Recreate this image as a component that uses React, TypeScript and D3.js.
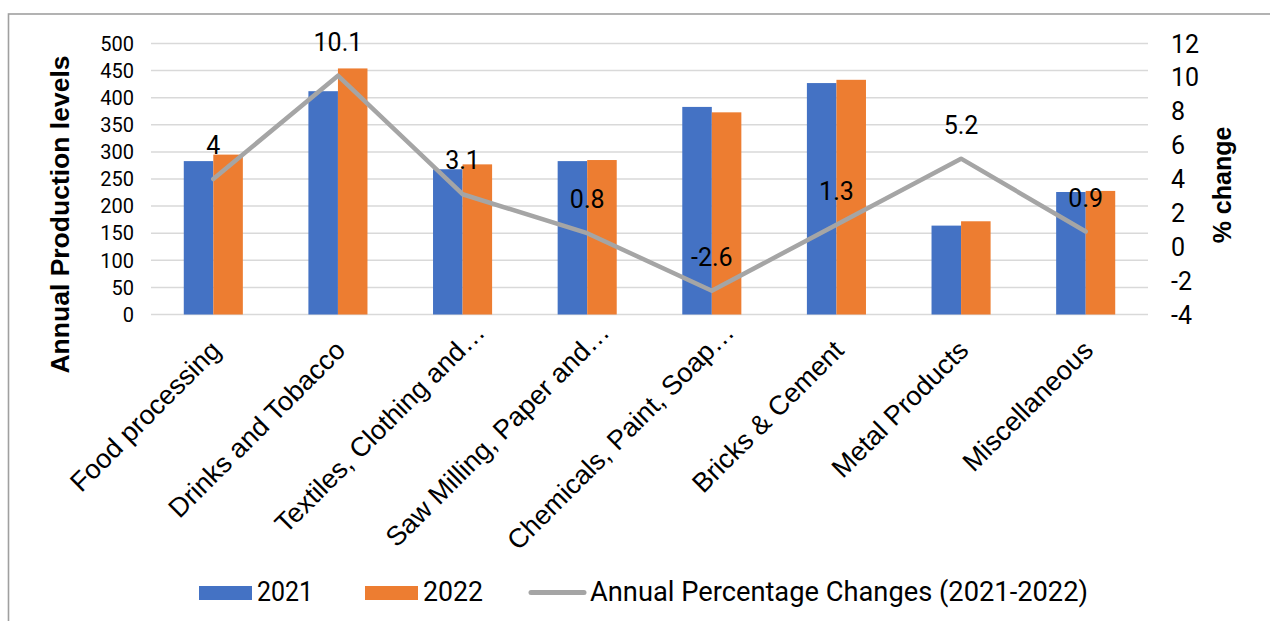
import React from "react";
import * as d3 from "d3";

const categories = [
  "Food processing",
  "Drinks and Tobacco",
  "Textiles, Clothing and…",
  "Saw Milling, Paper and…",
  "Chemicals, Paint, Soap…",
  "Bricks & Cement",
  "Metal Products",
  "Miscellaneous",
];
const values2021 = [283, 412, 268, 283, 383, 427, 164, 226];
const values2022 = [295, 454, 277, 285, 373, 433, 172, 228];
const pctChange = [4, 10.1, 3.1, 0.8, -2.6, 1.3, 5.2, 0.9];
const leftTicks = [0, 50, 100, 150, 200, 250, 300, 350, 400, 450, 500];
const rightTicks = [-4, -2, 0, 2, 4, 6, 8, 10, 12];
const seriesNames = ["2021", "2022"];
const lineName = "Annual Percentage Changes (2021-2022)";

const W = 1270;
const H = 621;
const left = 151;
const right = 1148;
const top = 43.5;
const bottom = 314.5;

const BLUE = "#4472C4";
const ORANGE = "#ED7D31";
const GREY = "#A5A5A5";
const GRID = "#D9D9D9";

export default function App() {
  const x = d3.scaleBand<string>().domain(categories).range([left, right]).paddingInner(0.526).paddingOuter(0.263);
  const xSub = d3.scaleBand<string>().domain(seriesNames).range([0, x.bandwidth()]);
  const yL = d3.scaleLinear().domain([0, 500]).range([bottom, top]);
  const yR = d3.scaleLinear().domain([-4, 12]).range([bottom, top]);
  const cx = (c: string) => (x(c) as number) + x.bandwidth() / 2;
  const line = d3
    .line<number>()
    .x((_, i) => cx(categories[i]))
    .y((d) => yR(d));

  const series = [values2021, values2022];
  const colors = [BLUE, ORANGE];

  return (
    <svg
      width={W}
      height={H}
      style={{ position: "fixed", left: 0, top: 0, display: "block", background: "#fff" }}
    >
      <rect x={8.5} y={14} width={1400} height={800} fill="#fff" stroke="#A0A0A0" strokeWidth={1.6} />
      {leftTicks.map((t) => (
        <line key={t} x1={left} x2={right} y1={yL(t)} y2={yL(t)} stroke={GRID} strokeWidth={1.5} />
      ))}
      {leftTicks.map((t) => (
        <text
          key={"l" + t}
          x={134}
          y={yL(t)}
          dy="0.36em"
          textAnchor="end"
          fontFamily="Roboto"
          fontSize={20}
          fill="#000"
        >
          {t}
        </text>
      ))}
      {rightTicks.map((t) => (
        <text
          key={"r" + t}
          x={1171}
          y={yR(t)}
          dy="0.36em"
          textAnchor="start"
          fontFamily="Roboto"
          fontSize={25}
          fill="#000"
        >
          {t}
        </text>
      ))}
      {series.map((vals, si) =>
        vals.map((v, i) => (
          <rect
            key={si + "-" + i}
            x={(x(categories[i]) as number) + (xSub(seriesNames[si]) as number)}
            y={yL(v)}
            width={xSub.bandwidth()}
            height={yL(0) - yL(v)}
            fill={colors[si]}
          />
        ))
      )}
      <path
        d={line(pctChange) || ""}
        fill="none"
        stroke={GREY}
        strokeWidth={4.5}
        strokeLinejoin="round"
        strokeLinecap="round"
      />
      {pctChange.map((v, i) => (
        <text
          key={"p" + i}
          x={cx(categories[i])}
          y={yR(v) - 25}
          textAnchor="middle"
          fontFamily="Roboto"
          fontSize={25}
          fill="#000"
        >
          {v}
        </text>
      ))}
      {categories.map((c) => {
        const trunc = c.endsWith("…");
        const ax = cx(c) + (trunc ? 24 : 9);
        const ay = trunc ? 334 : 352;
        return (
          <text
            key={"c" + c}
            transform={`translate(${ax},${ay}) rotate(-45)`}
            textAnchor="end"
            fontFamily="'Liberation Sans', Arial"
            fontSize={27}
            fill="#000"
          >
            {c}
          </text>
        );
      })}
      <text
        transform={`translate(69,214.5) rotate(-90)`}
        textAnchor="middle"
        fontFamily="'Liberation Sans', Arial"
        fontWeight="bold"
        fontSize={26.5}
        fill="#000"
      >
        Annual Production levels
      </text>
      <text
        transform={`translate(1231,185) rotate(-90)`}
        textAnchor="middle"
        fontFamily="'Liberation Sans', Arial"
        fontWeight="bold"
        fontSize={25}
        fill="#000"
      >
        % change
      </text>
      {/* legend */}
      <rect x={199} y={586} width={53} height={14} fill={BLUE} />
      <text x={257} y={601} fontFamily="Roboto" fontSize={27} textLength={56} lengthAdjust="spacingAndGlyphs" fill="#000">
        {seriesNames[0]}
      </text>
      <rect x={365} y={586} width={53} height={14} fill={ORANGE} />
      <text x={423} y={601} fontFamily="Roboto" fontSize={27} textLength={60} lengthAdjust="spacingAndGlyphs" fill="#000">
        {seriesNames[1]}
      </text>
      <line x1={531} x2={584} y1={592.5} y2={592.5} stroke={GREY} strokeWidth={5} strokeLinecap="round" />
      <text x={590} y={601} fontFamily="Roboto" fontSize={27} textLength={498} lengthAdjust="spacingAndGlyphs" fill="#000">
        {lineName}
      </text>
    </svg>
  );
}
